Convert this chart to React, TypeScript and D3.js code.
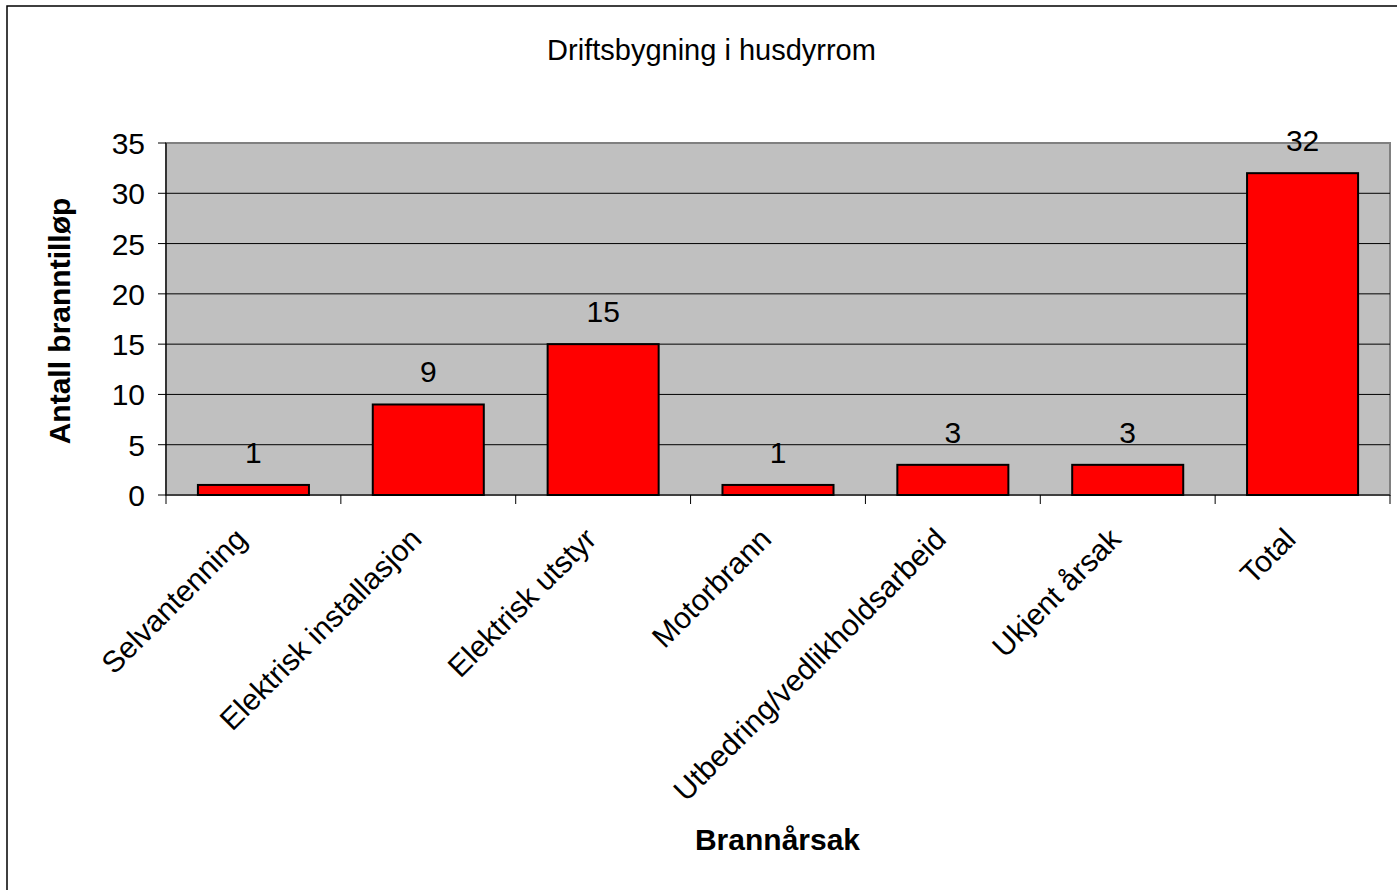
import React from "react";
import * as d3 from "d3";

const categories = [
  "Selvantenning",
  "Elektrisk installasjon",
  "Elektrisk utstyr",
  "Motorbrann",
  "Utbedring/vedlikholdsarbeid",
  "Ukjent årsak",
  "Total",
];
const values = [1, 9, 15, 1, 3, 3, 32];
const yTicks = [0, 5, 10, 15, 20, 25, 30, 35];
const title = "Driftsbygning i husdyrrom";
const yTitle = "Antall branntilløp";
const xTitle = "Brannårsak";

const W = 1397;
const H = 890;
const plot = { left: 166, right: 1390, top: 143, bottom: 495 };
const font = "Arial, 'Liberation Sans', sans-serif";

export default function App() {
  const x = d3
    .scaleBand<string>()
    .domain(categories)
    .range([plot.left, plot.right])
    .paddingInner(0)
    .paddingOuter(0);
  const y = d3.scaleLinear().domain([0, 35]).range([plot.bottom, plot.top]);
  const bw = x.bandwidth();
  const barW = bw * 0.635;

  return (
    <svg
      width={W}
      height={H}
      style={{ position: "absolute", left: 0, top: 0, background: "#fff" }}
      fontFamily={font}
    >
      <rect x={7} y={6} width={W + 10} height={H + 10} fill="#fff" stroke="#000" strokeWidth={1.5} />
      <text x={711.5} y={60} textAnchor="middle" fontSize={29} fill="#000">
        {title}
      </text>
      {/* plot area */}
      <rect
        x={plot.left}
        y={plot.top}
        width={plot.right - plot.left}
        height={plot.bottom - plot.top}
        fill="#c0c0c0"
        stroke="#808080"
        strokeWidth={2}
      />
      {yTicks.slice(1, -1).map((t) => (
        <line key={t} x1={plot.left} x2={plot.right} y1={y(t)} y2={y(t)} stroke="#000" strokeWidth={1} />
      ))}
      {/* y axis */}
      <line x1={plot.left} x2={plot.left} y1={plot.top} y2={plot.bottom} stroke="#000" strokeWidth={1.2} />
      {yTicks.map((t) => (
        <g key={t}>
          <line x1={plot.left - 8} x2={plot.left} y1={y(t)} y2={y(t)} stroke="#000" strokeWidth={1} />
          <text x={plot.left - 21} y={y(t) + 11} textAnchor="end" fontSize={30} fill="#000">
            {t}
          </text>
        </g>
      ))}
      {/* x axis */}
      <line x1={plot.left} x2={plot.right} y1={plot.bottom} y2={plot.bottom} stroke="#000" strokeWidth={1.2} />
      {categories.concat(["__end"]).map((c, i) => {
        const xx = plot.left + i * bw;
        return <line key={c} x1={xx} x2={xx} y1={plot.bottom} y2={plot.bottom + 9} stroke="#000" strokeWidth={1} />;
      })}
      {/* bars */}
      {categories.map((c, i) => {
        const cx = (x(c) as number) + bw / 2;
        return (
          <g key={c}>
            <rect
              x={cx - barW / 2}
              y={y(values[i])}
              width={barW}
              height={y(0) - y(values[i])}
              fill="#ff0000"
              stroke="#000"
              strokeWidth={2}
            />
            <text x={cx} y={y(values[i]) - 22} textAnchor="middle" fontSize={30} fill="#000">
              {values[i]}
            </text>
            <text
              transform={`translate(${cx - 5},${plot.bottom + 46}) rotate(-45)`}
              textAnchor="end"
              fontSize={30}
              fill="#000"
            >
              {c}
            </text>
          </g>
        );
      })}
      <text
        transform={`translate(70,${(plot.top + plot.bottom) / 2 + 2}) rotate(-90)`}
        textAnchor="middle"
        fontSize={30}
        fontWeight="bold"
        fill="#000"
      >
        {yTitle}
      </text>
      <text x={777.5} y={850} textAnchor="middle" fontSize={30} fontWeight="bold" fill="#000">
        {xTitle}
      </text>
    </svg>
  );
}
